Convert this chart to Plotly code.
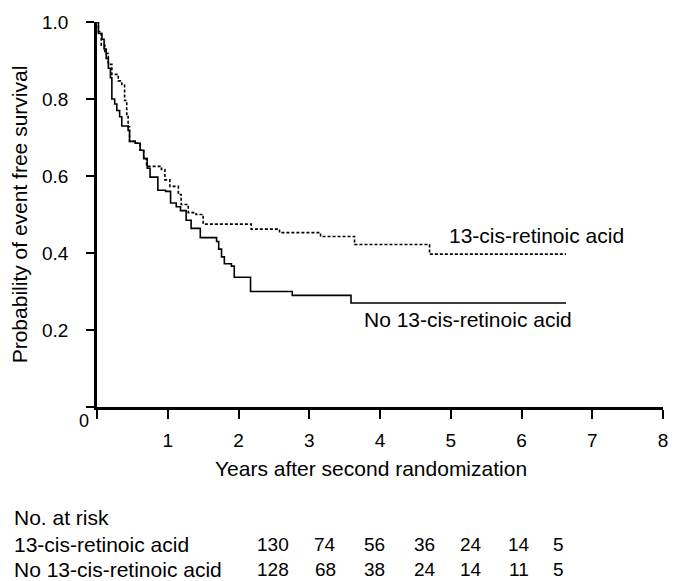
import plotly.graph_objects as go

# ---- data ----
t_cis = [0, 0.02, 0.06, 0.11, 0.16, 0.21, 0.30, 0.35, 0.39, 0.42, 0.44, 0.46, 0.54, 0.61, 0.66, 0.70,
         0.91, 0.96, 1.03, 1.15, 1.19, 1.29, 1.40, 1.50, 2.18, 2.58, 3.16, 3.64, 4.70, 6.63]
s_cis = [1.0, 0.975, 0.94, 0.918, 0.89, 0.864, 0.847, 0.838, 0.796, 0.76, 0.728, 0.69, 0.685, 0.667, 0.645, 0.625,
         0.617, 0.59, 0.573, 0.552, 0.526, 0.505, 0.50, 0.475, 0.462, 0.453, 0.443, 0.422, 0.397, 0.397]

t_no = [0, 0.02, 0.07, 0.10, 0.13, 0.16, 0.19, 0.21, 0.25, 0.28, 0.32, 0.35, 0.44, 0.46, 0.54, 0.61, 0.66, 0.71,
        0.75, 0.86, 0.97, 1.04, 1.12, 1.18, 1.26, 1.33, 1.46, 1.69, 1.72, 1.76, 1.80, 1.90, 1.94, 2.17, 2.76, 3.59, 6.63]
s_no = [1.0, 0.97, 0.955, 0.93, 0.905, 0.88, 0.855, 0.80, 0.787, 0.77, 0.754, 0.73, 0.718, 0.69, 0.685, 0.667, 0.645, 0.62,
        0.597, 0.563, 0.56, 0.53, 0.52, 0.51, 0.485, 0.464, 0.44, 0.43, 0.41, 0.39, 0.372, 0.366, 0.337, 0.30, 0.29, 0.27, 0.27]

x_ticks = [0, 1, 2, 3, 4, 5, 6, 7, 8]
x_ticklabels = ["", "1", "2", "3", "4", "5", "6", "7", "8"]
y_ticks = [0, 0.2, 0.4, 0.6, 0.8, 1.0]
y_ticklabels = ["", "0.2", "0.4", "0.6", "0.8", "1.0"]

risk_groups = ["13-cis-retinoic acid", "No 13-cis-retinoic acid"]
risk_cis = [130, 74, 56, 36, 24, 14, 5]
risk_no = [128, 68, 38, 24, 14, 11, 5]

# ---- layout ----
W, H = 680, 581
L, R, T, B = 97, 15, 17, 174
PW, PH = W - L - R, H - T - B
FONT = "Liberation Sans, Arial, Helvetica, sans-serif"


def px(x):
    return (x - L) / PW


def py(y):
    return (H - B - y) / PH


fig = go.Figure()
fig.add_trace(go.Scatter(x=t_cis, y=s_cis, mode="lines", line_shape="hv",
                         line=dict(color="black", width=1.6, dash="3px,2px"), showlegend=False))
fig.add_trace(go.Scatter(x=t_no, y=s_no, mode="lines", line_shape="hv",
                         line=dict(color="black", width=1.6), showlegend=False))

ann = []
ann.append(dict(x=4.94, y=0.446, xref="x", yref="y", text="13-cis-retinoic acid", showarrow=False,
                xanchor="left", yanchor="middle", font=dict(size=21, color="black", family=FONT)))
ann.append(dict(x=3.75, y=0.228, xref="x", yref="y", text="No 13-cis-retinoic acid", showarrow=False,
                xanchor="left", yanchor="middle", font=dict(size=21, color="black", family=FONT)))
ann.append(dict(x=px(84), y=py(421), xref="paper", yref="paper", text="0", showarrow=False,
                xanchor="center", yanchor="middle", font=dict(size=18, color="black", family=FONT)))
ann.append(dict(x=px(372), y=py(469), xref="paper", yref="paper", text="Years after second randomization",
                showarrow=False, xanchor="center", yanchor="middle", font=dict(size=21, color="black", family=FONT)))
ann.append(dict(x=px(12), y=py(519), xref="paper", yref="paper", text="No. at risk", showarrow=False,
                xanchor="left", yanchor="middle", font=dict(size=21, color="black", family=FONT)))
row_y = [546, 572]
col_x = [274, 326, 375, 426, 472, 520, 560]
for gi, (name, vals) in enumerate(zip(risk_groups, [risk_cis, risk_no])):
    ann.append(dict(x=px(12), y=py(row_y[gi]), xref="paper", yref="paper", text=name, showarrow=False,
                    xanchor="left", yanchor="middle", font=dict(size=21, color="black", family=FONT)))
    for v, cx in zip(vals, col_x):
        ann.append(dict(x=px(cx), y=py(row_y[gi]), xref="paper", yref="paper", text=str(v), showarrow=False,
                        xanchor="center", yanchor="middle", font=dict(size=19, color="black", family=FONT)))

fig.update_layout(
    width=W, height=H, margin=dict(l=L, r=R, t=T, b=B),
    paper_bgcolor="white", plot_bgcolor="white",
    font=dict(family=FONT, size=18, color="black"),
    annotations=ann,
    xaxis=dict(range=[0, 8], tickmode="array", tickvals=x_ticks, ticktext=x_ticklabels,
               showline=True, linecolor="black", linewidth=2.5, ticks="outside", ticklen=9,
               tickwidth=1.5, tickcolor="black", showgrid=False, zeroline=False,
               ticklabelstandoff=5, tickfont=dict(size=19)),
    yaxis=dict(range=[0, 1.0], tickmode="array", tickvals=y_ticks, ticktext=y_ticklabels,
               showline=True, linecolor="black", linewidth=2.5, ticks="outside", ticklen=8,
               tickwidth=1.5, tickcolor="black", showgrid=False, zeroline=False,
               ticklabelstandoff=14, tickfont=dict(size=19),
               title=dict(text="Probability of event free survival", font=dict(size=21), standoff=9)),
)

fig.write_html("out.html", config={"displayModeBar": False},
               post_script="document.body.style.margin='0';document.body.style.overflow='hidden';")
